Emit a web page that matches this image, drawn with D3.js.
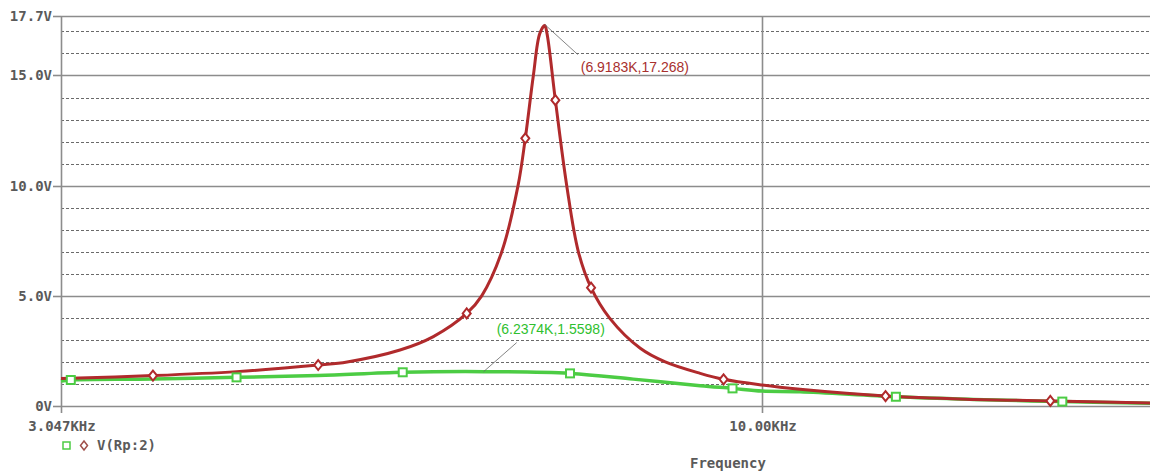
<!DOCTYPE html>
<html>
<head>
<meta charset="utf-8">
<script src="https://cdn.jsdelivr.net/npm/d3@7"></script>
<style>
  html, body { margin: 0; padding: 0; background: #fff; }
  svg { display: block; }
</style>
</head>
<body>
<svg id="chart" width="1150" height="474"></svg>
<script>
// ---------- data ----------
const xDomain = [3047, 20000];           // Hz, log axis
const yDomain = [0, 17.7];               // V
const xTickValues = [3047, 10000];
const xTickLabels = ["3.047KHz", "10.00KHz"];
const yTickValues = [0, 5, 10, 15, 17.7];
const yTickLabels = ["0V", "5.0V", "10.0V", "15.0V", "17.7V"];
const yMinorGrid = [1, 2, 3, 4, 6, 7, 8, 9, 11, 12, 13, 14, 16, 17];

// red trace (frequency Hz, volts)
const redFreq = [3047, 3561, 4103, 4712, 4949, 5413, 5728, 6061, 6217, 6432, 6612, 6694, 6786, 6860, 6918.3, 6945, 7044, 7181, 7324, 7483, 7720, 8134, 8486, 9004, 9368, 10000, 10665, 12328, 14306, 16300, 19312, 20000];
const redVolt = [1.25, 1.38, 1.56, 1.86, 2.0, 2.54, 3.15, 4.2, 5.0, 7.0, 10.0, 12.15, 15.0, 16.9, 17.268, 16.9, 13.88, 10.0, 7.0, 5.37, 4.0, 2.62, 2.0, 1.48, 1.21, 0.95, 0.76, 0.45, 0.30, 0.23, 0.14, 0.13];
const redMarkerFreq = [3561, 4712, 6061, 6694, 7044, 7483, 9368, 12328, 16300];
const redMarkerVolt = [1.38, 1.86, 4.2, 12.15, 13.88, 5.37, 1.21, 0.45, 0.23];

// green trace
const greenFreq = [3047, 3098, 3561, 4103, 4712, 5438, 6237.4, 7221, 8038, 9004, 9511, 10000, 10665, 12546, 14306, 16635, 19312, 20000];
const greenVolt = [1.13, 1.18, 1.22, 1.30, 1.38, 1.53, 1.5598, 1.48, 1.22, 0.92, 0.80, 0.68, 0.65, 0.42, 0.30, 0.20, 0.13, 0.12];
const greenMarkerFreq = [3098, 4103, 5438, 7221, 9511, 12546, 16635];
const greenMarkerVolt = [1.18, 1.30, 1.53, 1.48, 0.80, 0.42, 0.20];

const redPeak = { f: 6918.3, v: 17.268, label: "(6.9183K,17.268)" };
const greenPeak = { f: 6237.4, v: 1.5598, label: "(6.2374K,1.5598)" };
const legendLabel = "V(Rp:2)";
const xAxisTitle = "Frequency";

// ---------- drawing ----------
const svg = d3.select("#chart");
const x = d3.scaleLog().domain(xDomain).range([61, 1171]);
const y = d3.scaleLinear().domain(yDomain).range([406, 16]);

const axisFont = "'DejaVu Sans Mono', monospace";
const axisColor = "#5a5a5a";
const redColor = "#b02a2c";
const greenColor = "#4ccc44";

const grid = svg.append("g");
// dashed minor grid
grid.selectAll("line.minor").data(yMinorGrid).join("line")
  .attr("x1", x(xDomain[0])).attr("x2", 1150)
  .attr("y1", d => Math.round(y(d)) + 0.5).attr("y2", d => Math.round(y(d)) + 0.5)
  .attr("stroke", "#6a6a6a").attr("stroke-width", 1).attr("stroke-dasharray", "3,2");
// solid major grid
grid.selectAll("line.major").data(yTickValues).join("line")
  .attr("x1", x(xDomain[0])).attr("x2", 1150)
  .attr("y1", d => Math.round(y(d)) + 0.5).attr("y2", d => Math.round(y(d)) + 0.5)
  .attr("stroke", "#8c8c8c").attr("stroke-width", 1.6);
// vertical grid at 10 kHz and left axis
grid.selectAll("line.vx").data(xTickValues).join("line")
  .attr("x1", d => Math.round(x(d)) + 0.5).attr("x2", d => Math.round(x(d)) + 0.5)
  .attr("y1", y(yDomain[1])).attr("y2", y(0) + 7)
  .attr("stroke", "#8c8c8c").attr("stroke-width", 1.6);

// y tick marks and labels
const yAxis = svg.append("g");
yAxis.selectAll("line").data(yTickValues).join("line")
  .attr("x1", 53).attr("x2", x(xDomain[0]))
  .attr("y1", d => Math.round(y(d)) + 0.5).attr("y2", d => Math.round(y(d)) + 0.5)
  .attr("stroke", "#8c8c8c").attr("stroke-width", 1.6);
yAxis.selectAll("text").data(yTickValues).join("text")
  .attr("x", 52).attr("y", d => y(d) + 1)
  .attr("text-anchor", "end").attr("dominant-baseline", "middle")
  .attr("font-family", axisFont).attr("font-size", 14).attr("font-weight", "bold")
  .attr("fill", axisColor)
  .text((d, i) => yTickLabels[i]);

// x tick labels
svg.append("g").selectAll("text").data(xTickValues).join("text")
  .attr("x", d => x(d) + 1).attr("y", 431)
  .attr("text-anchor", "middle")
  .attr("font-family", axisFont).attr("font-size", 14).attr("font-weight", "bold")
  .attr("fill", axisColor)
  .text((d, i) => xTickLabels[i]);

svg.append("text")
  .attr("x", 690).attr("y", 468)
  .attr("font-family", axisFont).attr("font-size", 14).attr("font-weight", "bold")
  .attr("fill", axisColor).text(xAxisTitle);

// traces
const line = d3.line().x(d => x(d[0])).y(d => y(d[1])).curve(d3.curveCatmullRom.alpha(0.5));
const greenData = greenFreq.map((f, i) => [f, greenVolt[i]]);
const redData = redFreq.map((f, i) => [f, redVolt[i]]);

svg.append("path").datum(greenData).attr("d", line)
  .attr("fill", "none").attr("stroke", greenColor).attr("stroke-width", 3.5);
svg.append("path").datum(redData).attr("d", line)
  .attr("fill", "none").attr("stroke", redColor).attr("stroke-width", 3);

// markers
svg.append("g").selectAll("rect").data(greenMarkerFreq).join("rect")
  .attr("x", d => x(d) - 4).attr("y", (d, i) => y(greenMarkerVolt[i]) - 4)
  .attr("width", 8).attr("height", 8)
  .attr("fill", "#fff").attr("stroke", greenColor).attr("stroke-width", 2);
const diamond = (cx, cy) => `M${cx},${cy - 5}L${cx + 4},${cy}L${cx},${cy + 5}L${cx - 4},${cy}Z`;
svg.append("g").selectAll("path").data(redMarkerFreq).join("path")
  .attr("d", (d, i) => diamond(x(d), y(redMarkerVolt[i])))
  .attr("fill", "#fff").attr("stroke", redColor).attr("stroke-width", 2);

// annotations
const annoFont = "'Liberation Sans', Arial, sans-serif";
svg.append("line")
  .attr("x1", x(redPeak.f)).attr("y1", y(redPeak.v) - 1)
  .attr("x2", x(redPeak.f) + 33).attr("y2", y(redPeak.v) + 29)
  .attr("stroke", "#666").attr("stroke-width", 0.8);
svg.append("text")
  .attr("x", x(redPeak.f) + 36).attr("y", y(redPeak.v) + 46)
  .attr("font-family", annoFont).attr("font-size", 14)
  .attr("fill", "#a8302e").text(redPeak.label);

svg.append("line")
  .attr("x1", x(greenPeak.f)).attr("y1", y(greenPeak.v))
  .attr("x2", x(greenPeak.f) + 33).attr("y2", y(greenPeak.v) - 29)
  .attr("stroke", "#666").attr("stroke-width", 0.8);
svg.append("text")
  .attr("x", x(greenPeak.f) + 13).attr("y", y(greenPeak.v) - 38)
  .attr("font-family", annoFont).attr("font-size", 14)
  .attr("fill", "#2fbf2f").text(greenPeak.label);

// legend
const lg = svg.append("g");
lg.append("rect").attr("x", 63).attr("y", 442).attr("width", 7).attr("height", 7)
  .attr("fill", "#fff").attr("stroke", greenColor).attr("stroke-width", 1.5);
lg.append("path").attr("d", `M84,441L87.5,445.5L84,450L80.5,445.5Z`)
  .attr("fill", "#fff").attr("stroke", "#a0504a").attr("stroke-width", 1.5);
lg.append("text").attr("x", 97).attr("y", 446)
  .attr("dominant-baseline", "middle")
  .attr("font-family", axisFont).attr("font-size", 14).attr("font-weight", "bold")
  .attr("fill", axisColor).text(legendLabel);
</script>
</body>
</html>
